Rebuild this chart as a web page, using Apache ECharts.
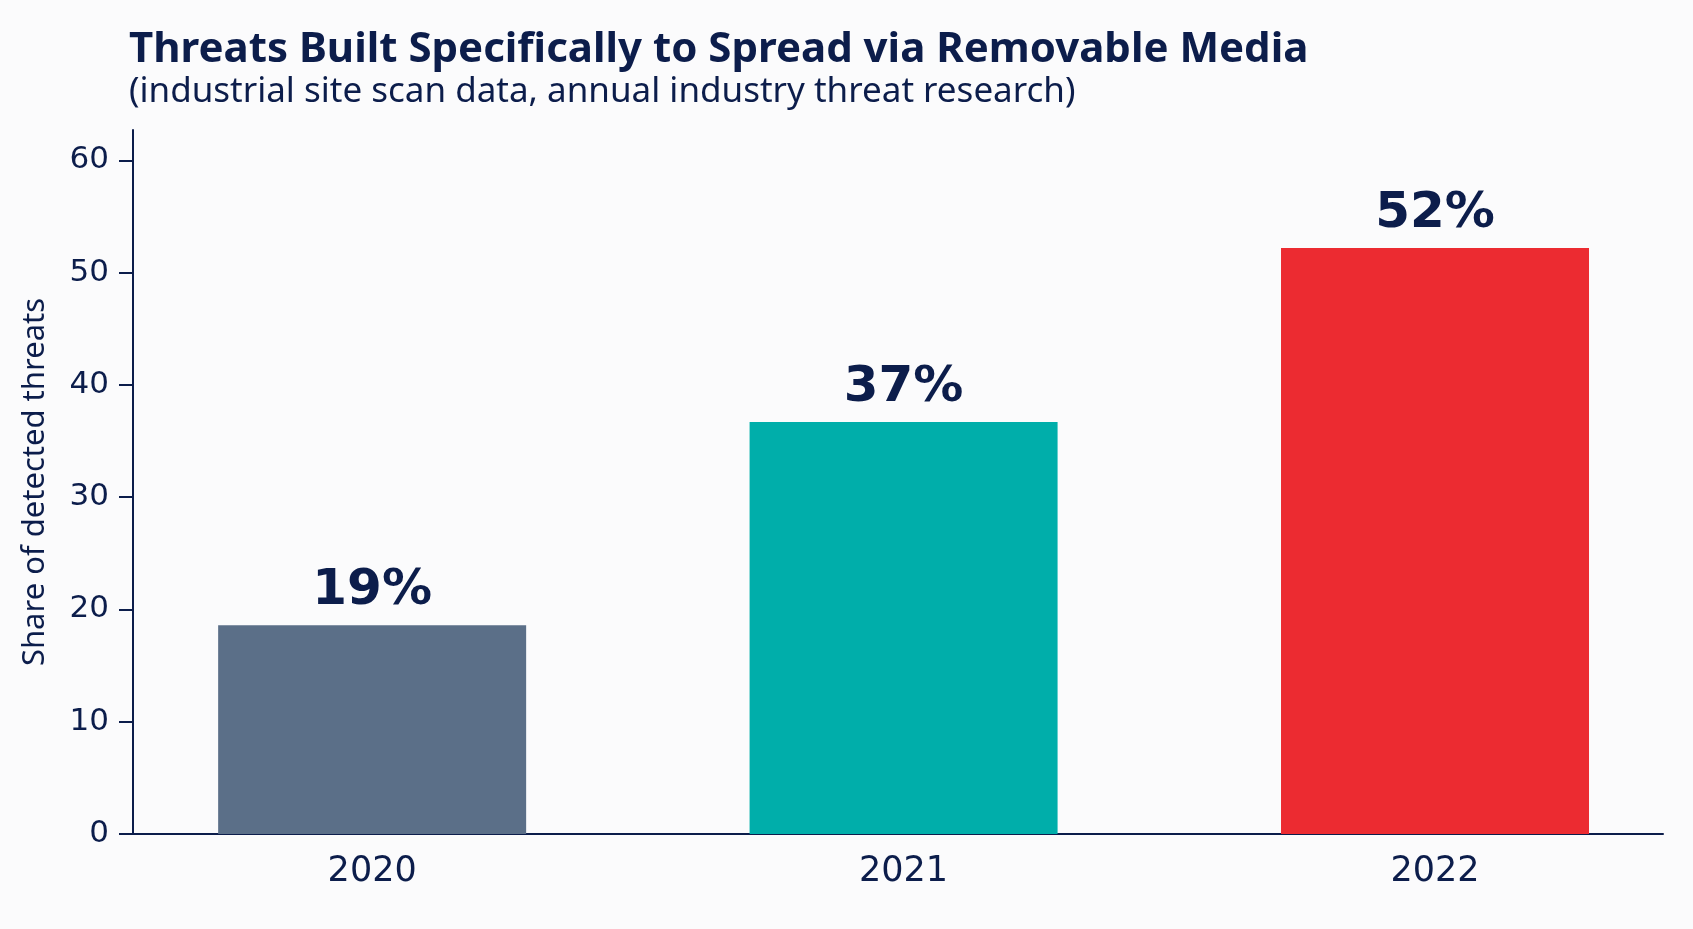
<!DOCTYPE html>
<html>
<head>
<meta charset="utf-8">
<script src="https://cdn.jsdelivr.net/npm/echarts@6/dist/echarts.min.js"></script>
<style>
  html, body { margin: 0; padding: 0; background: #fbfbfc; }
  #chart { width: 1693px; height: 929px; }
</style>
</head>
<body>
<div id="chart"></div>
<script>
// Données
const years = ['2020', '2021', '2022'];
const shares = [18.6, 36.7, 52.2];
const barColors = ['#5b6f88', '#00aeaa', '#ec2b31'];
const yTicks = [0, 10, 20, 30, 40, 50, 60];
const xTicks = [0, 1, 2];

const NAVY = '#0c1d4b';

const chart = echarts.init(document.getElementById('chart'));

const option = {
    backgroundColor: '#fbfbfc',
    animation: false,
    title: {
        text: 'Threats Built Specifically to Spread via Removable Media',
        subtext: '(industrial site scan data, annual industry threat research)',
        left: 124,
        top: 24,
        itemGap: 4,
        textStyle: {
            fontFamily: 'Noto Sans',
            fontWeight: 'bold',
            fontSize: 42,
            color: NAVY
        },
        subtextStyle: {
            fontFamily: 'Noto Sans',
            fontSize: 35,
            color: NAVY
        }
    },
    grid: { left: 133, right: 30, top: 130, bottom: 95 },
    // axe des années en valeur pour placer les barres comme sur l'original
    xAxis: {
        type: 'value',
        min: -0.45,
        max: 2.429,
        splitLine: { show: false },
        axisLine: { show: true, onZero: false, lineStyle: { color: NAVY, width: 2 } },
        axisTick: { show: false },
        axisLabel: {
            customValues: xTicks,
            formatter: v => years[v],
            margin: 20,
            fontFamily: 'DejaVu Sans',
            fontSize: 35,
            color: NAVY
        }
    },
    yAxis: {
        type: 'value',
        min: 0,
        max: 62.7,
        name: 'Share of detected threats',
        nameLocation: 'middle',
        nameGap: 82,
        nameTextStyle: { fontFamily: 'Noto Sans', fontSize: 31, color: NAVY },
        splitLine: { show: false },
        axisLine: { show: true, onZero: false, lineStyle: { color: NAVY, width: 2 } },
        axisTick: { show: true, length: 14, lineStyle: { color: NAVY, width: 2 }, customValues: yTicks },
        axisLabel: {
            customValues: yTicks,
            margin: 24,
            fontFamily: 'DejaVu Sans',
            fontSize: 31,
            color: NAVY
        }
    },
    series: [{
        type: 'bar',
        barWidth: 308,
        data: shares.map((v, i) => ({ value: [xTicks[i], v], itemStyle: { color: barColors[i] } })),
        label: {
            show: true,
            position: 'top',
            distance: 9,
            formatter: p => Math.round(p.value[1]) + '%',
            fontFamily: 'DejaVu Sans',
            fontWeight: 'bold',
            fontSize: 50,
            color: NAVY
        }
    }]
};

chart.setOption(option);
</script>
</body>
</html>
